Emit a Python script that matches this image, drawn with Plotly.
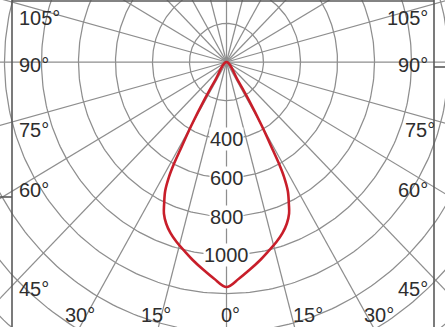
import numpy as np
import plotly.graph_objects as go

# ---- data ----
# luminous intensity curve (angle from nadir in degrees, intensity in cd)
curve_angles = [-35, -33, -31.5, -30, -28.8, -28.3, -27.6, -26.4, -24.6, -23.3, -21.3, -18.9, -16.2, -13.1, -10, -6.7, -3.4, 0,
                3.4, 6.7, 10, 13.1, 16.2, 18.9, 21.3, 23.3, 24.6, 26.4, 27.6, 28.3, 28.8, 30, 31.5, 33, 35]
curve_values = [0, 110, 230, 380, 520, 600, 670, 745, 810, 855, 898, 936, 970, 1005, 1043, 1083, 1125, 1166,
                1125, 1083, 1043, 1005, 970, 936, 898, 855, 810, 745, 670, 600, 520, 380, 230, 110, 0]

ring_values = [200, 400, 600, 800, 1000, 1200, 1400, 1600, 1800, 2000, 2200]
spoke_angles = list(range(0, 360, 15))
ring_labels = ["400", "600", "800", "1000"]
ring_label_values = [400, 600, 800, 1000]

angle_labels_left = ["105°", "90°", "75°", "60°", "45°"]
angle_labels_bottom = ["30°", "15°", "0°", "15°", "30°"]
angle_labels_right = ["45°", "60°", "75°", "90°", "105°"]

W, H = 445, 327
cx_px, cy_px = 226.5, 62.0
sx, sy = 0.185, 0.193  # px per cd

x0 = -cx_px / sx
x1 = (W - cx_px) / sx
y1 = cy_px / sy
y0 = -(H - cy_px) / sy

def to_xy(theta_deg, r):
    t = np.radians(np.asarray(theta_deg, dtype=float))
    r = np.asarray(r, dtype=float)
    return r * np.sin(t), -r * np.cos(t)

fig = go.Figure()
grid_color = "#8e8e8e"

# rings
tt = np.linspace(0, 360, 361)
for rv in ring_values:
    gx, gy = to_xy(tt, np.full_like(tt, rv))
    fig.add_trace(go.Scatter(x=gx, y=gy, mode="lines",
                             line=dict(color=grid_color, width=1.25),
                             hoverinfo="skip", showlegend=False))
# spokes
for a in spoke_angles:
    gx, gy = to_xy([a, a], [0, 3000])
    fig.add_trace(go.Scatter(x=gx, y=gy, mode="lines",
                             line=dict(color=grid_color, width=1.25),
                             hoverinfo="skip", showlegend=False))

# curve
cxs, cys = to_xy(curve_angles, curve_values)
fig.add_trace(go.Scatter(x=cxs, y=cys, mode="lines",
                         line=dict(color="#c81e2a", width=2.6, shape="spline", smoothing=1.0),
                         hoverinfo="skip", showlegend=False))

font = dict(family="Liberation Sans, Arial, sans-serif", size=20, color="#2e2e2e")
annotations = []
for txt, v in zip(ring_labels, ring_label_values):
    lx, ly = to_xy(0, v)
    annotations.append(dict(x=float(lx), y=float(ly) - 1, xref="x", yref="y", text=txt,
                            showarrow=False, font=font, bgcolor="white",
                            borderpad=0, xanchor="center", yanchor="middle"))

left_y = [18, 65, 130, 190, 289]
for txt, py in zip(angle_labels_left, left_y):
    annotations.append(dict(x=17 / W, y=1 - py / H, xref="paper", yref="paper", text=txt,
                            showarrow=False, font=font, xanchor="left", yanchor="middle"))
bottom_x = [80, 156, 230, 308, 379]
for txt, px in zip(angle_labels_bottom, bottom_x):
    annotations.append(dict(x=px / W, y=1 - 315 / H, xref="paper", yref="paper", text=txt,
                            showarrow=False, font=font, xanchor="center", yanchor="middle"))
right_y = [289, 190, 130, 65, 18]
right_x = [430, 430, 437, 430, 430]
for txt, py, px in zip(angle_labels_right, right_y, right_x):
    annotations.append(dict(x=px / W, y=1 - py / H, xref="paper", yref="paper", text=txt,
                            showarrow=False, font=font, xanchor="right", yanchor="middle"))

frame = dict(color="#5a5a5a", width=1.6)
shapes = [
    dict(type="line", xref="paper", yref="paper", x0=12 / W, x1=12 / W, y0=0, y1=1, line=frame),
    dict(type="line", xref="paper", yref="paper", x0=434 / W, x1=434 / W, y0=0, y1=1, line=frame),
    dict(type="line", xref="paper", yref="paper", x0=12 / W, x1=434 / W, y0=1 - 1 / H, y1=1 - 1 / H, line=frame),
    dict(type="line", xref="paper", yref="paper", x0=0, x1=12 / W, y0=1 - 197 / H, y1=1 - 197 / H, line=frame),
    dict(type="line", xref="paper", yref="paper", x0=434 / W, x1=1, y0=1 - 67 / H, y1=1 - 67 / H, line=frame),
]

fig.update_layout(
    width=W, height=H, autosize=False,
    margin=dict(l=0, r=0, t=0, b=0, pad=0),
    paper_bgcolor="white", plot_bgcolor="white",
    xaxis=dict(range=[x0, x1], visible=False, fixedrange=True),
    yaxis=dict(range=[y0, y1], visible=False, fixedrange=True),
    annotations=annotations, shapes=shapes,
)

fig.write_html("out.html", config={"displayModeBar": False})
